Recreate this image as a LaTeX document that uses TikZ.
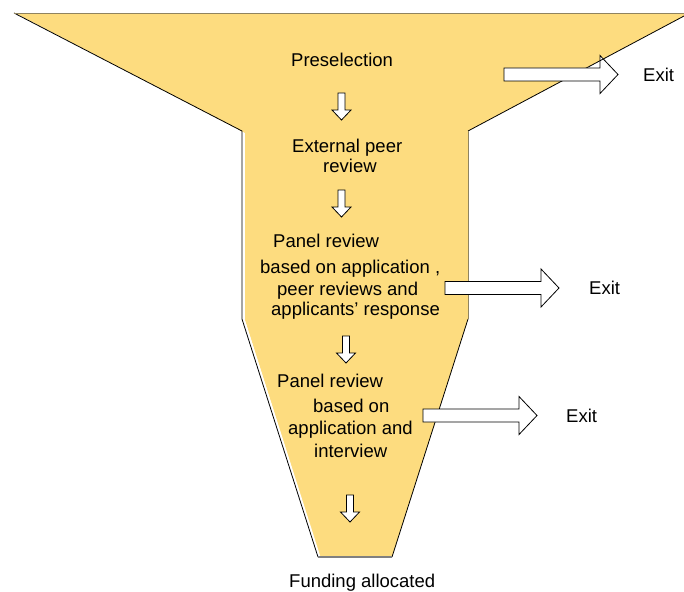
\documentclass[tikz,border=0pt]{standalone}
\usepackage{fontspec}
\setmainfont{Liberation Sans}
\begin{document}
\begin{tikzpicture}[x=1pt,y=-1pt,
  lbl/.style={anchor=base west,inner sep=0pt,font=\fontsize{18.5}{22}\selectfont},
  blockarrow/.style={fill=white,draw=black,line width=0.8pt,line join=miter},
  pics/exitarrow/.style={code={
    \path[blockarrow] (0,-6.5) -- (96,-6.5) -- (96,-19) -- (114,0) -- (96,19) -- (96,6.5) -- (0,6.5) -- cycle;}},
  pics/downarrow/.style={code={
    \path[blockarrow] (-3.5,0) -- (3.5,0) -- (3.5,17) -- (9.5,17) -- (0,27) -- (-9.5,17) -- (-3.5,17) -- cycle;}}
]
\definecolor{funnel}{HTML}{FDDC7F}
\definecolor{topline}{HTML}{8F8360}
\useasboundingbox (0,0) rectangle (684,591);
% funnel fill
\fill[funnel] (17,14) -- (684,14) -- (684,16) -- (468,131) -- (468,319) -- (392,557) -- (320,557) -- (245,320) -- (245,133) -- cycle;
% outline
\draw[white,line width=1.6pt] (16,15.5) -- (244,134) -- (244,320) -- (320,558);
\draw[black,line width=0.8pt] (14,13) -- (242,131) -- (242,319) -- (318,557);
\draw[black,line width=0.8pt] (684,16) -- (468,131);
\draw[topline,line width=0.9pt] (468,131) -- (468,319);
\draw[black,line width=0.8pt] (468,319) -- (392,557);
\draw[topline,line width=1.2pt] (14,13.5) -- (684,13.5);
\draw[gray,line width=1.2pt] (318,557) -- (392,557);
% down arrows
\coordinate (d1) at (341.5,93);
\coordinate (d2) at (341.5,190);
\coordinate (d3) at (346,336);
\coordinate (d4) at (350,495);
\pic at (d1) {downarrow};
\pic at (d2) {downarrow};
\pic at (d3) {downarrow};
\pic at (d4) {downarrow};
% exit arrows
\coordinate (e1) at (504,74.5);
\coordinate (e2) at (445,288);
\coordinate (e3) at (423,415.5);
\pic at (e1) {exitarrow};
\pic at (e2) {exitarrow};
\pic at (e3) {exitarrow};
\begin{scope}
  \clip (600,55) -- (618,74.5) -- (600,94) -- cycle;
  \draw[black,line width=0.8pt] (684,16) -- (468,131);
\end{scope}
% texts
\node[lbl] (pre) at (291,67) {Preselection};
\node[lbl] (ext1) at (292,152) {External peer};
\node[lbl] (ext2) at (323,172) {review};
\node[lbl] (pa1) at (273,247) {Panel review};
\node[lbl] (pa2) at (260,273) {based on application ,};
\node[lbl] (pa3) at (277,295) {peer reviews and};
\node[lbl] (pa4) at (271,315) {applicants’ response};
\node[lbl] (pb1) at (277,387) {Panel review};
\node[lbl] (pb2) at (313,412) {based on};
\node[lbl] (pb3) at (288,434) {application and};
\node[lbl] (pb4) at (314,457) {interview};
\node[lbl] (fund) at (289,587) {Funding allocated};
\node[lbl] (x1) at (643,82) {Exit};
\node[lbl] (x2) at (589,294) {Exit};
\node[lbl] (x3) at (566,422) {Exit};
\end{tikzpicture}
\end{document}
